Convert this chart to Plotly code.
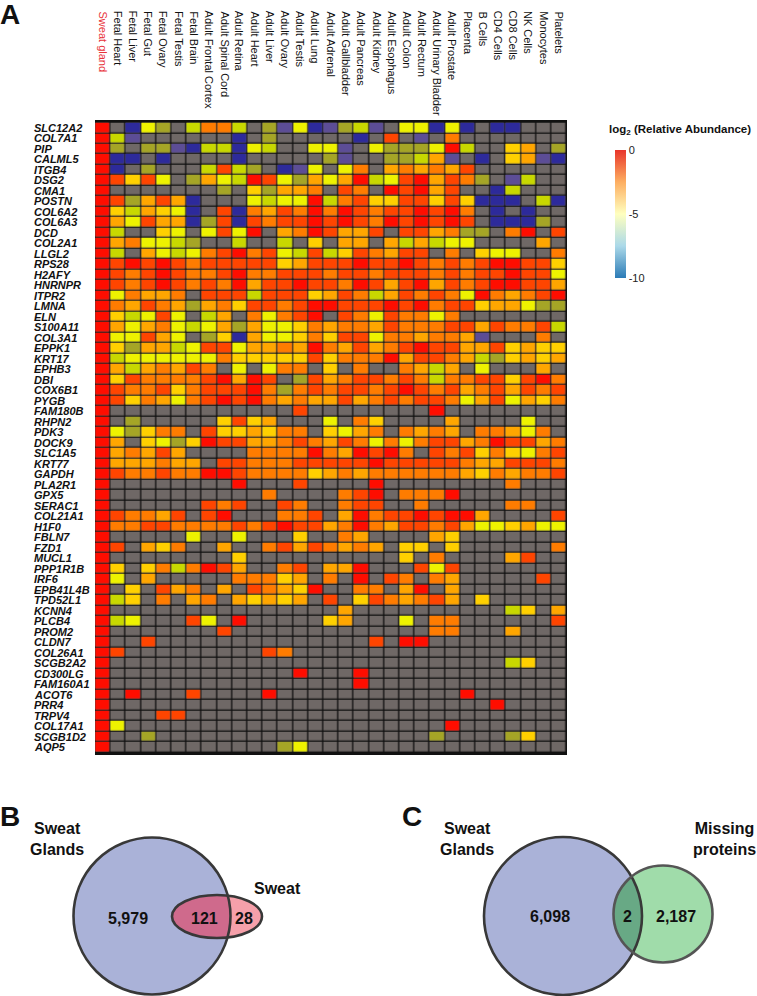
import numpy as np
import plotly.graph_objects as go

W, H = 757, 996
N = None
FONT = "Liberation Sans, Arial, sans-serif"

tissues = [
    "Sweat gland", "Fetal Heart", "Fetal Liver", "Fetal Gut", "Fetal Ovary", "Fetal Testis",
    "Fetal Brain", "Adult Frontal Cortex", "Adult Spinal Cord", "Adult Retina", "Adult Heart",
    "Adult Liver", "Adult Ovary", "Adult Testis", "Adult Lung", "Adult Adrenal",
    "Adult Gallbladder", "Adult Pancreas", "Adult Kidney", "Adult Esophagus", "Adult Colon",
    "Adult Rectum", "Adult Urinary Bladder", "Adult Prostate", "Placenta", "B Cells",
    "CD4 Cells", "CD8 Cells", "NK Cells", "Monocytes", "Platelets",
]

genes = [
    "SLC12A2", "COL7A1", "PIP", "CALML5", "ITGB4", "DSG2", "CMA1", "POSTN", "COL6A2", "COL6A3",
    "DCD", "COL2A1", "LLGL2", "RPS28", "H2AFY", "HNRNPR", "ITPR2", "LMNA", "ELN", "S100A11",
    "COL3A1", "EPPK1", "KRT17", "EPHB3", "DBI", "COX6B1", "PYGB", "FAM180B", "RHPN2", "PDK3",
    "DOCK9", "SLC1A5", "KRT77", "GAPDH", "PLA2R1", "GPX5", "SERAC1", "COL21A1", "H1F0", "FBLN7",
    "FZD1", "MUCL1", "PPP1R1B", "IRF6", "EPB41L4B", "TPD52L1", "KCNN4", "PLCB4", "PROM2", "CLDN7",
    "COL26A1", "SCGB2A2", "CD300LG", "FAM160A1", "ACOT6", "PRR4", "TRPV4", "COL17A1", "SCGB1D2", "AQP5",
]

# log2 relative abundance, one row per gene (None = not detected, grey)
abundance = [
    [0,N,-9,-5,-7,N,-6,-2,-2,-6,N,-7,-8,-5,-9, -8,-7,-6,-8,N,-5,-5,-9,-5,-9,N,-9,-9,N,N,N],
    [0,-6,-8,N,N,N,N,N,N,-9,N,-7,N,N,N, N,N,-9,N,-1,N,-8,N,-2,N,N,N,N,N,N,N],
    [0,-7,N,-7,-7,-8,-9,-6,-6,-9,-5,-6,N,N,-5, -5,-8,N,-5,-7,-7,-7,-5,0,-6,N,N,-4,-3,N,-7],
    [0,-9,-9,N,-9,N,N,N,N,-9,N,N,N,N,N, -7,-8,N,N,-7,-7,-6,-3,-8,N,-9,N,-4,-3,-8,-9],
    [0,-9,N,-7,N,N,N,-6,-1,-6,-7,N,-9,-8,-5, N,-5,-2,N,-3,-2,-3,-2,-3,-1,N,N,N,N,N,N],
    [0,-1,-4,-1,-5,N,-7,-3,-5,-6,0,-1,-5,-7,-3, -5,-3,0,-6,-5,-1,0,-3,-1,-2,-7,N,-8,-6,N,N],
    [0,N,N,N,N,N,N,N,-7,N,-4,-7,-3,-3,-2, N,-1,-2,N,0,-1,0,-3,-1,N,N,-9,-6,N,N,N],
    [0,-1,-7,-3,-1,-3,-9,N,N,N,-5,-6,-5,-5,0, -6,-2,-1,-4,-4,-1,-1,-4,-1,-4,-9,-9,-9,N,-6,-9],
    [0,-4,-6,-3,-4,-5,-9,N,-1,-9,-2,-3,-1,-2,0, -2,0,-1,-2,-1,-1,0,-1,0,-2,N,-9,N,-9,N,N],
    [0,-3,-5,-1,-3,-3,-9,-7,-1,-9,-1,-2,-1,-1,0, -1,0,-1,-2,0,-1,0,-1,0,-1,N,-9,-9,-9,-7,N],
    [0,-6,N,N,-4,-5,N,-5,-1,-5,0,N,-3,-2,0, -1,-3,-3,-1,N,-1,-1,-3,-2,-7,-7,N,-2,0,N,-1],
    [0,-3,-2,-5,-5,-6,-7,N,N,-6,N,N,-6,N,-4, N,-3,-3,N,-3,-6,-3,-6,-5,-5,N,N,N,N,-3,N],
    [0,-6,N,-3,-5,-6,-5,-2,-1,0,-2,-1,-5,-6,-1, -6,-4,-1,-2,-3,-1,-1,N,-2,N,-4,-5,-5,N,N,-2],
    [0,-1,0,-1,0,-1,-2,-1,-1,-1,-1,-1,-4,-3,-1, -1,-1,0,-1,-1,0,-1,-2,-1,-2,-1,0,0,-1,-1,-4],
    [0,-1,-2,-1,0,-1,-2,-2,-1,0,-2,-2,-1,-1,-1, -2,-1,-1,-2,-1,-1,-1,-2,-1,-2,-1,-1,0,-1,-1,-5],
    [0,-1,-2,-1,0,-1,-2,-1,-2,0,-3,-1,-1,0,-1, -1,-2,0,-1,-3,-1,0,-3,-1,-2,-1,0,0,-1,-1,-3],
    [0,-5,-2,-3,-3,-2,N,-1,-1,-1,-6,-1,-1,-1,-4, -3,-1,-2,-6,-3,-1,-2,-1,-2,-5,0,-2,-3,-2,-1,0],
    [0,-2,-3,-1,-2,-3,-7,-3,-2,-4,-1,-1,-2,-1,0, 0,-1,-1,-1,0,-1,0,-2,-1,-1,-4,-3,-3,-5,-7,-7],
    [0,-4,-6,-5,-1,-5,N,-6,-3,N,-2,-5,-2,-1,0, N,-1,-2,-5,-1,-2,-2,-5,-2,N,N,N,N,N,N,N],
    [0,-3,-5,-3,-2,-5,-6,-5,-3,-7,-3,-5,-5,-4,-2, -3,-2,-2,-3,-1,-2,-2,-2,-1,-1,-3,-1,-2,-2,-1,-6],
    [0,-5,-5,-1,-3,-5,N,-7,-4,-9,-3,-5,-5,-4,-2, -4,-1,-1,-5,-2,-2,-3,-2,-2,-3,-8,N,N,N,-2,N],
    [0,-4,-7,-3,-3,-6,-5,-1,-1,-5,-3,-3,-2,-3,0, -2,-3,-1,-3,-2,-1,0,-1,-1,-3,-3,-1,-4,-3,-4,-4],
    [0,-6,-5,-5,-5,-5,-5,-5,-2,-4,-4,-4,-4,-4,-1, -4,-2,-2,-2,0,-3,-1,-1,-2,-3,-6,-7,-4,-3,-4,-3],
    [0,-3,-6,-3,-2,-3,-1,-2,N,-5,N,-5,-2,-2,N, -4,N,-2,N,N,-2,-3,-6,-3,N,-5,N,N,N,-3,N],
    [0,-4,-1,-2,-2,-2,-2,-1,0,-3,0,-1,N,-7,-1, -3,-2,-1,-1,-2,-1,-2,-6,-2,-2,-1,-1,-4,-1,0,-2],
    [0,-1,-2,-2,-1,-4,-2,-1,-1,-1,0,-2,-7,-2,-1, -2,-1,-1,-2,-1,0,-1,-2,-1,-3,-2,-1,-3,-1,-2,-1],
    [0,-1,-4,-2,-3,-5,-2,-1,0,-1,0,-2,-3,-2,-3, -3,-1,-3,-2,-1,-2,-1,-1,-2,-5,-3,-1,-5,-3,-4,-2],
    [0,N,N,N,N,N,N,N,N,N,N,N,N,-1,N, N,N,N,N,N,N,N,0,N,N,N,N,N,N,N,N],
    [0,N,-7,N,N,N,N,N,-4,-1,-4,-3,N,N,N, -5,N,-2,-4,N,N,N,N,-3,N,N,N,N,-5,N,N],
    [0,-5,-7,-4,-2,-2,N,-1,-4,-4,-3,-4,-2,-2,N, -4,-5,-3,-2,N,-2,-3,-2,-3,N,-2,-2,-3,-5,-2,N],
    [0,-3,N,-4,-5,-7,-4,0,-1,-1,-3,-3,-2,-1,-2, -3,-1,-2,-5,-2,-5,-2,-1,-1,-3,-2,0,-1,-1,-3,-2],
    [0,-3,-2,-3,-1,-3,N,N,N,N,-2,-2,-2,-2,0, -2,-3,0,-1,0,-2,N,-1,-2,-1,-4,-2,-4,-5,-2,-1],
    [0,-3,-3,-3,-2,-3,-3,N,-1,-1,-2,-2,-2,-1,-1, -1,-1,-1,0,-1,-1,-1,-1,-1,-2,-3,-3,-1,-1,-1,-2],
    [0,-1,-2,-2,-1,-2,-2,0,0,-1,-2,-2,-2,-2,-4, -3,-2,-3,-2,-2,-2,-2,-2,-2,-3,-4,-2,-3,-2,-2,-1],
    [0,N,N,N,N,N,N,N,N,0,N,N,N,-1,N, N,N,N,0,N,N,N,N,N,N,N,N,-2,N,N,N],
    [0,N,N,N,N,N,N,N,N,N,N,-2,N,N,N, N,-2,-1,0,N,-2,-2,-2,0,N,N,N,N,N,N,N],
    [0,N,N,N,N,N,N,-1,-2,-1,N,N,-1,-2,N, N,-2,-1,-1,N,N,-2,N,N,N,N,N,-2,-2,N,N],
    [0,-1,-2,-2,-3,-1,N,-1,0,N,N,N,-2,-2,-1, N,-3,0,-2,-1,-1,0,-1,0,0,-3,N,N,N,N,-1],
    [0,-2,-2,-1,-1,-2,-2,-2,-2,-1,-2,-1,0,-1,-1, -3,-2,0,-2,-3,-1,-1,-2,-1,-3,-5,-5,-4,-3,-5,-5],
    [0,N,N,N,N,N,-5,N,N,-5,N,N,N,-4,N, N,-2,-3,N,N,N,N,-3,-4,N,N,N,N,N,N,N],
    [0,-1,N,-3,-4,-2,N,N,-3,N,N,-2,-1,-3,-1, -2,-3,-2,-3,N,-4,-4,N,-4,N,N,N,N,N,N,-2],
    [0,N,N,N,N,N,N,N,N,-4,N,N,N,N,N, N,N,N,N,N,-4,N,-2,N,N,N,N,-3,-1,N,N],
    [0,-4,N,-4,-2,-6,-2,0,-1,-3,N,N,-2,-1,N, -3,-3,0,N,N,N,-1,-5,-1,N,N,N,N,N,N,N],
    [0,-5,N,-3,N,N,N,N,N,-2,-2,-2,-4,-3,N, -2,N,0,N,-1,-2,N,-2,-3,N,N,N,N,N,-1,N],
    [0,N,-4,N,-1,-3,-2,N,-3,N,-1,-2,-3,-4,0, N,N,-2,-2,N,-3,0,N,-3,N,N,N,N,N,N,N],
    [0,-6,-4,N,-2,N,-3,-2,N,-3,-4,-3,-4,-3,N, -1,N,-4,-1,-2,-3,-2,-1,-3,N,-4,N,N,N,N,N],
    [0,N,N,N,N,N,N,N,N,N,N,N,N,N,N, N,-3,N,N,N,N,N,N,N,N,N,N,-6,-4,N,-3],
    [0,-6,-5,N,N,N,-1,-5,N,0,N,N,N,N,N, -4,-3,N,N,N,-5,N,-2,-2,N,N,N,N,N,N,-1],
    [0,N,N,N,N,N,N,N,-1,N,N,N,N,N,N, N,N,N,N,N,N,N,-2,-2,N,N,N,-3,N,N,N],
    [0,N,N,-1,N,N,N,N,N,N,N,N,N,N,N, N,N,N,-1,N,0,0,N,N,N,N,N,N,N,N,N],
    [0,-1,N,N,N,N,N,N,N,N,N,-1,-2,N,N, N,N,N,N,N,N,N,N,N,N,N,N,N,N,N,N],
    [0,N,N,N,N,N,N,N,N,N,N,N,N,N,N, N,N,N,N,N,N,N,N,N,N,N,N,-6,-4,N,N],
    [0,N,N,N,N,N,N,N,N,N,N,N,N,0,N, N,N,0,N,N,N,N,N,N,N,N,N,N,N,N,N],
    [0,N,N,N,N,N,N,N,N,N,N,N,N,N,N, N,N,0,N,N,N,N,N,N,N,N,N,N,N,N,N],
    [0,N,0,N,N,N,-1,N,N,N,N,0,N,N,N, N,N,N,N,N,N,N,N,N,0,N,N,N,N,N,N],
    [0,N,N,N,N,N,N,N,N,N,N,N,N,N,N, N,N,N,N,N,N,N,N,N,N,N,0,N,N,N,N],
    [0,N,N,N,-1,-1,N,N,N,N,N,N,N,N,N, N,N,N,N,N,N,N,N,N,N,N,N,N,N,N,N],
    [0,-5,N,N,N,N,N,N,N,N,N,N,N,N,N, N,N,N,N,N,N,N,N,0,N,N,N,N,N,N,N],
    [0,N,N,-7,N,N,N,N,N,N,N,N,N,N,N, N,N,N,N,N,N,N,-7,N,N,N,N,-7,-4,N,N],
    [0,N,N,N,N,N,N,N,N,N,N,N,-7,-5,N, N,N,N,N,N,N,N,N,N,N,N,N,N,N,N,N],
]
assert len(abundance) == len(genes) and all(len(r) == len(tissues) for r in abundance)

venn_b = ["5,979", "121", "28"]
venn_c = ["6,098", "2", "2,187"]

# colours of the heatmap levels, from -9 (low) to 0 (high)
level_colors = ["#2d2a9b", "#5c4d96", "#a5a526", "#c8d800", "#eef200",
                "#ffd000", "#ffa600", "#ff7c00", "#ff4500", "#ff0d00"]
heat_scale = [[i / 9, c] for i, c in enumerate(level_colors)]
legend_scale = [[0, "#2c7bb6"], [0.25, "#abd9e9"], [0.5, "#ffffbf"], [0.75, "#fdae61"], [1, "#e8352a"]]


def px(x):
    return x / W


def py(y):
    return 1 - y / H


fig = go.Figure()

# grey "not detected" layer underneath
fig.add_trace(go.Heatmap(
    x=tissues, y=genes, z=[[0] * len(tissues) for _ in genes],
    colorscale=[[0, "#6f6866"], [1, "#6f6866"]], showscale=False,
    xgap=1.3, ygap=1.3, hoverinfo="skip",
))
fig.add_trace(go.Heatmap(
    x=tissues, y=genes, z=abundance, zmin=-9, zmax=0,
    colorscale=heat_scale, showscale=False, xgap=1.3, ygap=1.3,
))
# colour key
fig.add_trace(go.Scatter(
    x=[None], y=[None], mode="markers", showlegend=False, hoverinfo="skip",
    marker=dict(color=[0], cmin=-10, cmax=0, colorscale=legend_scale, showscale=True,
                colorbar=dict(x=px(615), xanchor="left", y=py(150), yanchor="top",
                              lenmode="pixels", len=128, thicknessmode="pixels", thickness=11,
                              outlinewidth=0, xpad=0, ypad=0, ticks="",
                              tickvals=[0, -5, -10], ticktext=["0", "-5", "-10"],
                              tickfont=dict(size=11, color="#222", family=FONT))),
))

ann = []
for t in tissues:
    ann.append(dict(x=t, xref="x", y=py(9), yref="paper", text=t, textangle=90,
                    xanchor="center", yanchor="top", showarrow=False,
                    font=dict(size=11, family=FONT,
                              color="#e8333a" if t == "Sweat gland" else "#111")))
for g in genes:
    ann.append(dict(x=px(32), xref="paper", y=g, yref="y", text=f"<b><i>{g}</i></b>",
                    xanchor="left", yanchor="middle", showarrow=False,
                    font=dict(size=11, family=FONT, color="#111")))


def label(text, x, y, size):
    return dict(x=px(x), y=py(y), xref="paper", yref="paper", text=f"<b>{text}</b>",
                xanchor="center", yanchor="middle", showarrow=False,
                font=dict(size=size, family=FONT, color="#111"))


ann.append(label("log<sub>2</sub> (Relative Abundance)", 680, 130, 11.5))
for letter, x, y in [("A", 10, 15), ("B", 10, 816), ("C", 412, 816)]:
    ann.append(label(letter, x, y, 28))

venn_text = [
    ("Sweat<br>Glands", 57, 839), ("Sweat", 277, 888),
    ("Sweat<br>Glands", 467, 839), ("Missing<br>proteins", 724, 839),
    (venn_b[0], 128, 918), (venn_b[1], 204, 918), (venn_b[2], 244, 918),
    (venn_c[0], 550, 916), (venn_c[1], 627, 916), (venn_c[2], 676, 916),
]
for txt, x, y in venn_text:
    ann.append(label(txt, x, y, 16))


def ellipse(cx, cy, rx, ry, **kw):
    return dict(type="circle", xref="paper", yref="paper",
                x0=px(cx - rx), x1=px(cx + rx), y0=py(cy + ry), y1=py(cy - ry), **kw)


def lens(a, b):
    """polygon path of the overlap of two ellipses given in pixels."""
    def arc(p, q):
        t = np.linspace(0, 2 * np.pi, 720, endpoint=False)
        x = p[0] + p[2] * np.cos(t)
        y = p[1] + p[3] * np.sin(t)
        inside = ((x - q[0]) / q[2]) ** 2 + ((y - q[1]) / q[3]) ** 2 <= 1
        start = int(np.argmax(inside & ~np.roll(inside, 1)))
        x, y, inside = np.roll(x, -start), np.roll(y, -start), np.roll(inside, -start)
        return list(zip(x[inside], y[inside]))
    pts = arc(a, b) + arc(b, a)
    return "M " + " L ".join(f"{px(x):.5f},{py(y):.5f}" for x, y in pts) + " Z"


big_b = (152, 916, 78.5, 78.5)
sweat = (217, 916.5, 45, 21.5)
big_c = (563, 916, 79, 79)
missing = (663, 914, 49.5, 48.5)
edge = dict(color="#383838", width=2.6)
shapes = [
    ellipse(*big_b, fillcolor="#aab2d8", line=dict(width=0)),
    ellipse(*sweat, fillcolor="#f6a0aa", line=dict(width=0)),
    dict(type="path", xref="paper", yref="paper", path=lens(big_b, sweat),
         fillcolor="#cf6a8c", line=dict(width=0)),
    ellipse(*big_b, line=edge),
    ellipse(*sweat, line=edge),
    ellipse(*big_c, fillcolor="#aab2d8", line=dict(width=0)),
    ellipse(*missing, fillcolor="#a0dcaa", line=dict(width=0)),
    dict(type="path", xref="paper", yref="paper", path=lens(big_c, missing),
         fillcolor="#68a985", line=dict(width=0)),
    ellipse(*big_c, line=edge),
    ellipse(*missing, line=dict(color="#555555", width=2.6)),
]

fig.update_layout(
    width=W, height=H, autosize=False,
    margin=dict(l=0, r=0, t=0, b=0),
    paper_bgcolor="white", plot_bgcolor="#111111",
    font=dict(family=FONT, color="#111"),
    xaxis=dict(domain=[px(95), px(567)], showticklabels=False, showgrid=False,
               zeroline=False, ticks=""),
    yaxis=dict(domain=[py(755), py(120)], autorange="reversed", showticklabels=False,
               showgrid=False, zeroline=False, ticks=""),
    annotations=ann, shapes=shapes, showlegend=False,
)

# drop the default 8px page margin so the figure sits at the window's corner
fig.write_html("out.html", config={"displayModeBar": False},
               post_script="document.body.style.margin='0';")
